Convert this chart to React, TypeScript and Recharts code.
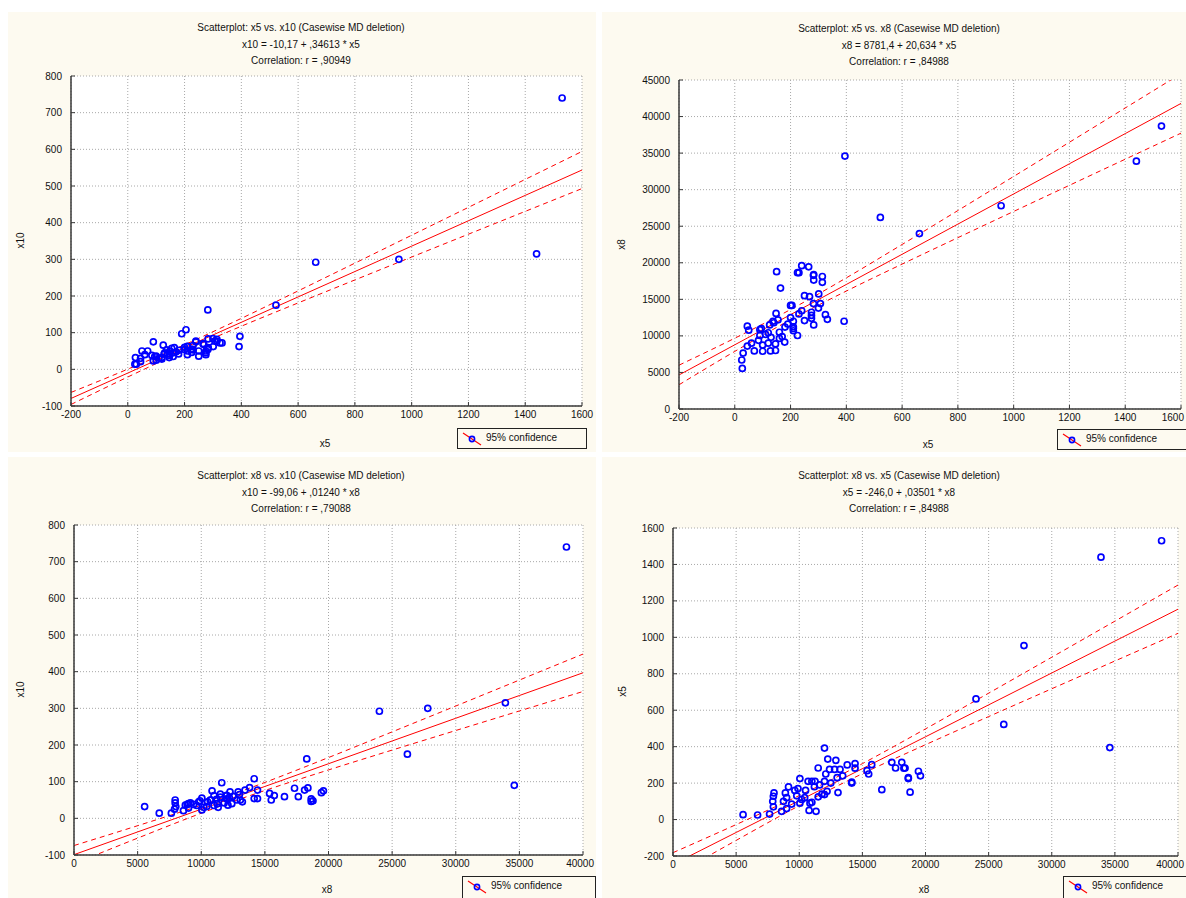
import React from 'react';
import { ComposedChart, Scatter, Line, XAxis, YAxis, CartesianGrid } from 'recharts';

// ---------- data (one observation per index) ----------
const x5Values = [1530, 1440, 955, 662, 522, 395, 392, 27, 25, 30, 70, 128, 146, 100, 45, 100, 146, 179, 160, 130, 225, 90, 120, 210, 90, 50, 210, 210, 45, 283, 190, 210, 137, 250, 332, 275, 275, 148, 275, 240, 205, 200, 307, 282, 268, 250, 301, 164, 314, 283, 282, 314, 283, 230, 225, 150, 265, 60, 85, 110, 160, 180, 140, 200, 120, 95, 230, 155, 125, 300, 325, 170, 240];
const x8Values = [38700, 33900, 27800, 24000, 26200, 34600, 12000, 5550, 6700, 7650, 7950, 7950, 8000, 7900, 8600, 8750, 8900, 9150, 9650, 9800, 10050, 10050, 10430, 10700, 10850, 10780, 11000, 11250, 11330, 11500, 11610, 12000, 12000, 12100, 12260, 12400, 12800, 13070, 13230, 13440, 14160, 14160, 14420, 14420, 15370, 15500, 15740, 16540, 17330, 17630, 18290, 18120, 18380, 18640, 18640, 18780, 19440, 9000, 9400, 10200, 10500, 11200, 11800, 12500, 9000, 11000, 13000, 12200, 11500, 13800, 12900, 9900, 19600];
const x10Values = [740, 315, 300, 292, 175, 90, 62, 32, 14, 14, 50, 42, 32, 25, 21, 36, 38, 42, 35, 45, 55, 23, 32, 50, 75, 50, 62, 40, 30, 58, 97, 63, 53, 36, 72, 40, 50, 50, 45, 77, 108, 54, 77, 54, 68, 50, 62, 59, 82, 59, 162, 77, 83, 53, 46, 48, 70, 40, 38, 30, 45, 52, 42, 60, 28, 35, 65, 57, 66, 84, 72, 48, 75];

// ---------- fitted lines and 95% confidence bands ----------
const bandXx5 = [-200, 0, 200, 400, 600, 800, 1000, 1200, 1400, 1600];
const fitX10onX5 = [-79.4, -10.2, 59.1, 128.3, 197.5, 266.7, 336.0, 405.2, 474.4, 543.6];
const upX10onX5 = [-63.0, 0.5, 67.1, 139.0, 213.9, 289.6, 365.7, 441.8, 518.0, 594.2];
const loX10onX5 = [-95.8, -20.9, 51.1, 117.6, 181.1, 243.8, 306.3, 368.6, 430.8, 493.0];

const fitX8onX5 = [4654.6, 8781.4, 12908.2, 17035.0, 21161.8, 25288.6, 29415.4, 33542.2, 37669.0, 41795.8];
const upX8onX5 = [5996, 9685, 13608, 17939, 22503, 27142, 31808, 36486, 41172, 45861];
const loX8onX5 = [3314, 7877, 12208, 16131, 19821, 23436, 27022, 30598, 34166, 37731];

const bandXx8 = [0, 5000, 10000, 12500, 15000, 20000, 25000, 30000, 35000, 40000];
const fitX10onX8 = [-99.06, -37.06, 24.94, 55.94, 86.94, 148.94, 210.94, 272.94, 334.94, 396.94];
const upX10onX8 = [-74.2, -20.1, 35.9, 65.9, 97.9, 165.8, 235.8, 306.3, 377.1, 448.0];
const loX10onX8 = [-123.9, -54.0, 14.0, 45.9, 75.9, 132.0, 186.1, 239.5, 292.8, 345.9];

const fitX5onX8 = [-246.0, -70.95, 104.1, 191.6, 279.2, 454.2, 629.3, 804.3, 979.4, 1154.4];
const upX5onX8 = [-181.8, -27.5, 131.7, 216.6, 306.8, 497.6, 693.5, 890.8, 1088.7, 1286.9];
const loX5onX8 = [-310.2, -114.4, 76.5, 166.6, 251.6, 410.8, 565.1, 717.8, 870.1, 1021.9];

// ---------- ticks ----------
const x5Ticks = [-200, 0, 200, 400, 600, 800, 1000, 1200, 1400, 1600];
const x8Ticks = [0, 5000, 10000, 15000, 20000, 25000, 30000, 35000, 40000];
const x10Ticks = [-100, 0, 100, 200, 300, 400, 500, 600, 700, 800];
const x8YTicks = [0, 5000, 10000, 15000, 20000, 25000, 30000, 35000, 40000, 45000];
const x5YTicks = [-200, 0, 200, 400, 600, 800, 1000, 1200, 1400, 1600];

// ---------- helpers ----------
const pts = (xs: number[], ys: number[]) => xs.map((x, i) => ({ x, y: ys[i] }));
const band = (xs: number[], fit: number[], up: number[], lo: number[]) =>
  xs.map((x, i) => ({ x, fit: fit[i], upper: up[i], lower: lo[i] }));

const CREAM = '#FDFAF0';
const FONT = "'Liberation Sans', Arial, sans-serif";
const AX = '#383838';

const BottomTick = (p: any) => {
  const label = String(p.payload.value);
  const halfW = label.length * 2.8;
  const overflow = p.x + halfW > p.maxX;
  return (
    <g>
      <line x1={p.x} x2={p.x} y1={p.y - 5} y2={p.y - 9} stroke={AX} strokeWidth={1} />
      <text x={overflow ? p.maxX : p.x} y={p.y} dy="0.71em" textAnchor={overflow ? 'end' : 'middle'} fontSize={10} fontFamily={FONT} fill="#111">
        {label}
      </text>
    </g>
  );
};
const TopTick = (p: any) => (
  <line x1={p.x} x2={p.x} y1={p.y} y2={p.y + 4} stroke={AX} strokeWidth={1} />
);
const LeftTick = (p: any) => (
  <g>
    <line x1={p.x + 9} x2={p.x + 13} y1={p.y} y2={p.y} stroke={AX} strokeWidth={1} />
    <text x={p.x} y={p.y} dy="0.355em" textAnchor="end" fontSize={10} fontFamily={FONT} fill="#111">
      {p.payload.value}
    </text>
  </g>
);
const RightTick = (p: any) => (
  <line x1={p.x} x2={p.x - 4} y1={p.y} y2={p.y} stroke={AX} strokeWidth={1} />
);

const circleShape = (p: any) => (
  <circle cx={p.cx} cy={p.cy} r={3} fill="none" stroke="#0000FF" strokeWidth={1.7} />
);

type Cfg = {
  left: number; top: number; width: number; height: number;
  plot: { l: number; t: number; r: number; b: number };
  xDomain: [number, number]; yDomain: [number, number];
  xTicks: number[]; yTicks: number[];
  points: { x: number; y: number }[];
  bandData: { x: number; fit: number; upper: number; lower: number }[];
  title: string[]; titleCx: number; titleTop: number;
  xLabel: string; xLabelPos: [number, number];
  yLabel: string; yLabelPos: [number, number];
  legend: { l: number; t: number; w: number; h: number };
};

function Panel({ c }: { c: Cfg }) {
  const margin = { top: c.plot.t - c.top, right: c.left + c.width - c.plot.r, bottom: 0, left: 0 };
  const xAxisH = c.top + c.height - c.plot.b;
  const yAxisW = c.plot.l - c.left;
  const axisLine = { stroke: AX, strokeWidth: 1.5 };
  const maxX = Math.min(c.width, 1186 - c.left) - 2;
  return (
    <>
      <div style={{ position: 'absolute', left: c.left, top: c.top, width: c.width, height: c.height, background: CREAM }} />
      <div style={{ position: 'absolute', left: c.titleCx - 200, top: c.titleTop, width: 400, textAlign: 'center', fontFamily: FONT, fontSize: 10, lineHeight: '16.5px', color: '#111' }}>
        {c.title.map((t, i) => (
          <div key={i}>{t}</div>
        ))}
      </div>
      <div style={{ position: 'absolute', left: c.left, top: c.top }}>
        <ComposedChart width={c.width} height={c.height} margin={margin}>
          <CartesianGrid stroke="#A8A8A8" strokeDasharray="1 2" fill="#FFFFFF" />
          <XAxis xAxisId={0} type="number" dataKey="x" domain={c.xDomain} ticks={c.xTicks} interval={0}
            allowDataOverflow height={xAxisH} tickSize={0} tickMargin={5} tickLine={false}
            tick={(p: any) => <BottomTick {...p} maxX={maxX} />} axisLine={axisLine} />
          <XAxis xAxisId="top" orientation="top" type="number" domain={c.xDomain} ticks={c.xTicks} interval={0}
            allowDataOverflow height={0} tickSize={0} tickMargin={0} tickLine={false}
            tick={(p: any) => <TopTick {...p} />} axisLine={axisLine} />
          <YAxis yAxisId={0} type="number" dataKey="y" domain={c.yDomain} ticks={c.yTicks} interval={0}
            allowDataOverflow width={yAxisW} tickSize={0} tickMargin={9} tickLine={false}
            tick={(p: any) => <LeftTick {...p} />} axisLine={axisLine} />
          <YAxis yAxisId="right" orientation="right" type="number" domain={c.yDomain} ticks={c.yTicks} interval={0}
            allowDataOverflow width={0} tickSize={0} tickMargin={0} tickLine={false}
            tick={(p: any) => <RightTick {...p} />} axisLine={axisLine} />
          <Scatter data={c.points} shape={circleShape} isAnimationActive={false} />
          <Line data={c.bandData} dataKey="fit" type="monotone" stroke="#FF0000" strokeWidth={1} dot={false} activeDot={false} isAnimationActive={false} />
          <Line data={c.bandData} dataKey="upper" type="monotone" stroke="#FF0000" strokeWidth={1} strokeDasharray="5 4" dot={false} activeDot={false} isAnimationActive={false} />
          <Line data={c.bandData} dataKey="lower" type="monotone" stroke="#FF0000" strokeWidth={1} strokeDasharray="5 4" dot={false} activeDot={false} isAnimationActive={false} />
        </ComposedChart>
      </div>
      <div style={{ position: 'absolute', left: c.xLabelPos[0] - 30, top: c.xLabelPos[1] - 6, width: 60, textAlign: 'center', fontFamily: FONT, fontSize: 10, color: '#111' }}>
        {c.xLabel}
      </div>
      <div style={{ position: 'absolute', left: c.yLabelPos[0] - 30, top: c.yLabelPos[1] - 6, width: 60, textAlign: 'center', fontFamily: FONT, fontSize: 10, color: '#111', transform: 'rotate(-90deg)' }}>
        {c.yLabel}
      </div>
      <div style={{ position: 'absolute', left: c.legend.l, top: c.legend.t, width: c.legend.w, height: c.legend.h, border: '1.5px solid #222', boxSizing: 'border-box', background: CREAM, overflow: 'hidden' }}>
        <svg width={22} height={18} style={{ position: 'absolute', left: 3, top: 1 }}>
          <line x1={2} y1={3} x2={20} y2={15} stroke="#FF0000" strokeWidth={1.2} />
          <circle cx={11} cy={9} r={2.6} fill="none" stroke="#0000FF" strokeWidth={1.6} />
        </svg>
        <span style={{ position: 'absolute', left: 28, top: 3, fontFamily: FONT, fontSize: 10, color: '#111', whiteSpace: 'nowrap' }}>95% confidence</span>
      </div>
    </>
  );
}

const panels: Cfg[] = [
  {
    left: 8, top: 12, width: 588, height: 440,
    plot: { l: 71, t: 76, r: 582, b: 406 },
    xDomain: [-200, 1600], yDomain: [-100, 800], xTicks: x5Ticks, yTicks: x10Ticks,
    points: pts(x5Values, x10Values),
    bandData: band(bandXx5, fitX10onX5, upX10onX5, loX10onX5),
    title: ['Scatterplot: x5 vs. x10 (Casewise MD deletion)', 'x10 = -10,17 + ,34613 *  x5', 'Correlation: r = ,90949'],
    titleCx: 301, titleTop: 20,
    xLabel: 'x5', xLabelPos: [325, 444], yLabel: 'x10', yLabelPos: [20, 241],
    legend: { l: 457, t: 428, w: 130, h: 21 },
  },
  {
    left: 602, top: 12, width: 584, height: 440,
    plot: { l: 679, t: 80, r: 1181, b: 409 },
    xDomain: [-200, 1600], yDomain: [0, 45000], xTicks: x5Ticks, yTicks: x8YTicks,
    points: pts(x5Values, x8Values),
    bandData: band(bandXx5, fitX8onX5, upX8onX5, loX8onX5),
    title: ['Scatterplot: x5 vs. x8 (Casewise MD deletion)', 'x8 = 8781,4 + 20,634 *  x5', 'Correlation: r = ,84988'],
    titleCx: 899, titleTop: 21,
    xLabel: 'x5', xLabelPos: [928, 445], yLabel: 'x8', yLabelPos: [621, 245],
    legend: { l: 1057, t: 429, w: 130, h: 21 },
  },
  {
    left: 8, top: 457, width: 588, height: 441,
    plot: { l: 74, t: 525, r: 583, b: 855 },
    xDomain: [0, 40000], yDomain: [-100, 800], xTicks: x8Ticks, yTicks: x10Ticks,
    points: pts(x8Values, x10Values),
    bandData: band(bandXx8, fitX10onX8, upX10onX8, loX10onX8),
    title: ['Scatterplot: x8 vs. x10 (Casewise MD deletion)', 'x10 = -99,06 + ,01240 *  x8', 'Correlation: r = ,79088'],
    titleCx: 301, titleTop: 468,
    xLabel: 'x8', xLabelPos: [327, 890], yLabel: 'x10', yLabelPos: [20, 690],
    legend: { l: 462, t: 876, w: 134, h: 24 },
  },
  {
    left: 602, top: 457, width: 584, height: 441,
    plot: { l: 673, t: 528, r: 1178, b: 856 },
    xDomain: [0, 40000], yDomain: [-200, 1600], xTicks: x8Ticks, yTicks: x5YTicks,
    points: pts(x8Values, x5Values),
    bandData: band(bandXx8, fitX5onX8, upX5onX8, loX5onX8),
    title: ['Scatterplot: x8 vs. x5 (Casewise MD deletion)', 'x5 = -246,0 + ,03501 *  x8', 'Correlation: r = ,84988'],
    titleCx: 899, titleTop: 468,
    xLabel: 'x8', xLabelPos: [924, 890], yLabel: 'x5', yLabelPos: [622, 692],
    legend: { l: 1063, t: 876, w: 130, h: 24 },
  },
];

export default function App() {
  return (
    <div style={{ position: 'absolute', left: 0, top: 0, width: 1186, height: 898, background: '#FFFFFF', overflow: 'hidden' }}>
      {panels.map((c, i) => (
        <Panel key={i} c={c} />
      ))}
    </div>
  );
}
